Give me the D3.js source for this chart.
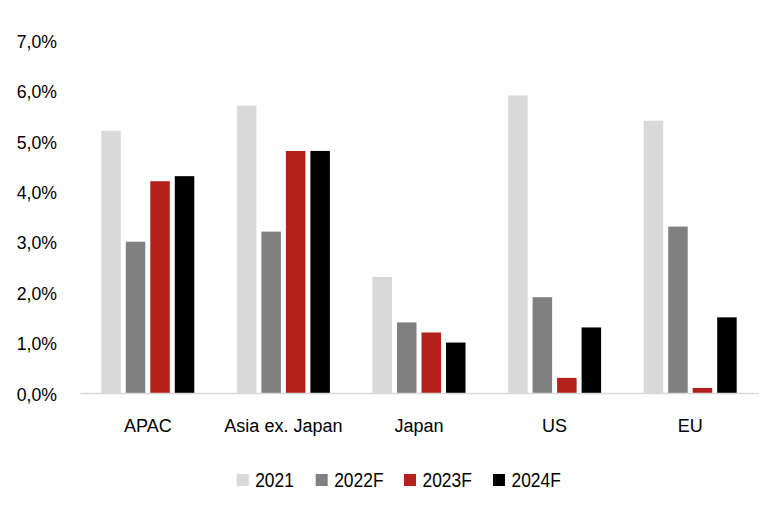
<!DOCTYPE html>
<html>
<head>
<meta charset="utf-8">
<script src="https://cdn.jsdelivr.net/npm/d3@7"></script>
<style>
  html, body { margin: 0; padding: 0; background: #fff; }
  text { font-family: "Liberation Sans Narrow", "Arial Narrow", "Liberation Sans", sans-serif; fill: #000; }
</style>
</head>
<body>
<svg id="chart" width="765" height="509"></svg>
<script>
const categories = ["APAC", "Asia ex. Japan", "Japan", "US", "EU"];
const seriesNames = ["2021", "2022F", "2023F", "2024F"];
const seriesColors = ["#d9d9d9", "#808080", "#b2221a", "#000000"];
const values2021  = [5.2, 5.7, 2.3, 5.9, 5.4];
const values2022F = [3.0, 3.2, 1.4, 1.9, 3.3];
const values2023F = [4.2, 4.8, 1.2, 0.3, 0.1];
const values2024F = [4.3, 4.8, 1.0, 1.3, 1.5];
const yTicks = [0, 1, 2, 3, 4, 5, 6, 7];

const seriesValues = [values2021, values2022F, values2023F, values2024F];

const svg = d3.select("#chart");
const mLeft = 80, mRight = 758, mTop = 40, mBottom = 393;

const x0 = d3.scaleBand().domain(categories).range([mLeft, mRight]).padding(0);
const x1 = d3.scaleBand().domain(seriesNames).range([0, x0.bandwidth()])
  .paddingInner(0.204).paddingOuter(0.87);
const y = d3.scaleLinear().domain([0, 7]).range([mBottom, mTop]);

// y axis labels
const yAxis = d3.axisLeft(y).tickValues(yTicks).tickSize(0).tickPadding(0)
  .tickFormat(d => d3.format(".1f")(d).replace(".", ",") + "%");
const yg = svg.append("g").attr("transform", "translate(57,0)").call(yAxis);
yg.select(".domain").remove();
yg.selectAll("text").attr("font-size", 19).attr("font-family", null)
  .attr("dy", "0.38em").attr("transform", "scale(0.93,1)");

// bars
const groups = svg.append("g").selectAll("g").data(categories).join("g")
  .attr("transform", d => `translate(${x0(d)},0)`);
groups.selectAll("rect")
  .data((c, ci) => seriesNames.map((s, si) => ({ s, si, v: seriesValues[si][ci] })))
  .join("rect")
  .attr("x", d => x1(d.s))
  .attr("width", x1.bandwidth())
  .attr("y", d => y(d.v))
  .attr("height", d => y(0) - y(d.v))
  .attr("fill", d => seriesColors[d.si]);

// baseline
const xAxis = d3.axisBottom(x0).tickSize(0).tickPadding(0);
const xg = svg.append("g").attr("transform", `translate(0,${mBottom})`).call(xAxis);
xg.select(".domain").attr("stroke", "#d9d9d9").attr("stroke-width", 1.5);
xg.selectAll("text").attr("font-size", 18).attr("font-family", null).attr("dy", null).attr("y", 38.5);

// legend
const legendX = [236.7, 315.7, 404, 493];
const lg = svg.append("g").selectAll("g").data(seriesNames).join("g")
  .attr("transform", (d, i) => `translate(${legendX[i]},474)`);
lg.append("rect").attr("width", 12).attr("height", 12).attr("fill", (d, i) => seriesColors[i]);
lg.append("text").attr("transform", "translate(18.5,12.5) scale(0.87,1)")
  .attr("font-size", 20).text(d => d);
</script>
</body>
</html>
